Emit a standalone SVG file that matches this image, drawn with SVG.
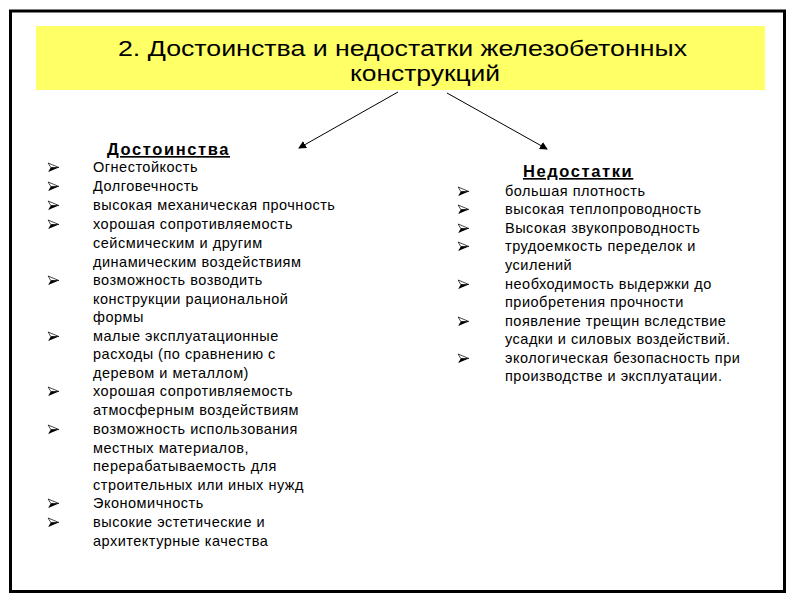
<svg xmlns="http://www.w3.org/2000/svg" width="800" height="600" viewBox="0 0 800 600">
<style>
.t{font-family:"Liberation Sans",Arial,sans-serif;fill:#000}
.title{font-size:22px}
.h{font-size:16.5px;font-weight:bold;text-decoration:underline;letter-spacing:1.6px}
.b{font-size:14.5px;letter-spacing:0.5px}
</style>
<defs>
<symbol id="bul" viewBox="0 0 12 10" overflow="visible">
<polygon points="0,0 12,5 3,5" fill="#fff" stroke="#000" stroke-width="0.8"/>
<polygon points="0,10 12,5 3,5" fill="#000"/>
</symbol>
<marker id="ah" markerWidth="8" markerHeight="8" refX="7" refY="4" orient="auto" markerUnits="userSpaceOnUse">
<path d="M0,0 L8,4 L0,8 z" fill="#000"/>
</marker>
</defs>
<rect width="800" height="600" fill="#fff"/>
<rect x="10.5" y="11" width="774" height="580.5" fill="none" stroke="#000" stroke-width="3"/>
<g id="title">
<rect x="36" y="26" width="729" height="64" fill="#ffff66"/>
<text class="t title" x="118" y="56" textLength="569" lengthAdjust="spacingAndGlyphs">2. Достоинства и недостатки железобетонных</text>
<text class="t title" x="350" y="81" textLength="150" lengthAdjust="spacingAndGlyphs">конструкций</text>
</g>
<g id="connectors" stroke="#000" stroke-width="1" fill="none">
<line x1="398" y1="92" x2="299" y2="148" marker-end="url(#ah)"/>
<line x1="447" y1="93" x2="547" y2="149" marker-end="url(#ah)"/>
</g>
<g id="advantages">
<text class="t h" x="107" y="155">Достоинства </text>
<use href="#bul" x="48" y="163" width="11" height="9"/>
<use href="#bul" x="48" y="182" width="11" height="9"/>
<use href="#bul" x="48" y="201" width="11" height="9"/>
<use href="#bul" x="48" y="220" width="11" height="9"/>
<use href="#bul" x="48" y="276" width="11" height="9"/>
<use href="#bul" x="48" y="332" width="11" height="9"/>
<use href="#bul" x="48" y="387" width="11" height="9"/>
<use href="#bul" x="48" y="425" width="11" height="9"/>
<use href="#bul" x="48" y="499" width="11" height="9"/>
<use href="#bul" x="48" y="518" width="11" height="9"/>
<text class="t b" x="93" y="172">Огнестойкость</text>
<text class="t b" x="93" y="191">Долговечность</text>
<text class="t b" x="93" y="210">высокая механическая прочность</text>
<text class="t b" x="93" y="229"> хорошая сопротивляемость</text>
<text class="t b" x="93" y="248">сейсмическим и другим</text>
<text class="t b" x="93" y="267">динамическим воздействиям</text>
<text class="t b" x="93" y="285">возможность возводить</text>
<text class="t b" x="93" y="304">конструкции рациональной</text>
<text class="t b" x="93" y="322">формы</text>
<text class="t b" x="93" y="341">малые эксплуатационные</text>
<text class="t b" x="93" y="359">расходы (по сравнению с</text>
<text class="t b" x="93" y="378">деревом и металлом)</text>
<text class="t b" x="93" y="396">хорошая сопротивляемость</text>
<text class="t b" x="93" y="415">атмосферным воздействиям</text>
<text class="t b" x="93" y="434">возможность использования</text>
<text class="t b" x="93" y="453">местных материалов,</text>
<text class="t b" x="93" y="471">перерабатываемость для</text>
<text class="t b" x="93" y="490">строительных или иных нужд</text>
<text class="t b" x="93" y="508">Экономичность</text>
<text class="t b" x="93" y="527">высокие эстетические и</text>
<text class="t b" x="93" y="546">архитектурные качества</text>
</g>
<g id="disadvantages">
<text class="t h" x="523" y="177">Недостатки </text>
<use href="#bul" x="458" y="187" width="11" height="9"/>
<use href="#bul" x="458" y="205" width="11" height="9"/>
<use href="#bul" x="458" y="224" width="11" height="9"/>
<use href="#bul" x="458" y="242" width="11" height="9"/>
<use href="#bul" x="458" y="280" width="11" height="9"/>
<use href="#bul" x="458" y="317" width="11" height="9"/>
<use href="#bul" x="458" y="354" width="11" height="9"/>
<text class="t b" x="505" y="196">большая плотность</text>
<text class="t b" x="505" y="214">высокая теплопроводность</text>
<text class="t b" x="505" y="233">Высокая звукопроводность</text>
<text class="t b" x="505" y="251">трудоемкость переделок и</text>
<text class="t b" x="505" y="270">усилений</text>
<text class="t b" x="505" y="289">необходимость выдержки до</text>
<text class="t b" x="505" y="307">приобретения прочности</text>
<text class="t b" x="505" y="326">появление трещин вследствие</text>
<text class="t b" x="505" y="344">усадки и силовых воздействий.</text>
<text class="t b" x="505" y="363">экологическая безопасность при</text>
<text class="t b" x="505" y="381">производстве и эксплуатации.</text>
</g>
</svg>
